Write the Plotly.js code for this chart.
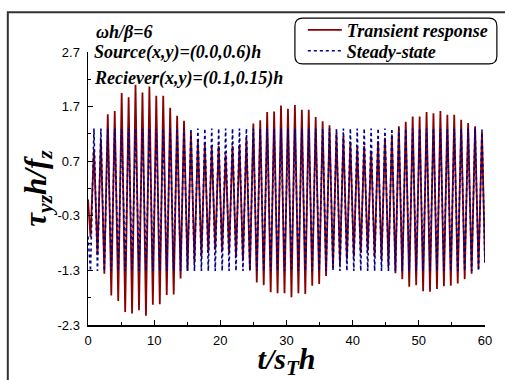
<!DOCTYPE html>
<html>
<head>
<meta charset="utf-8">
<script src="https://cdn.plot.ly/plotly-3.0.1.min.js"></script>
<style>html,body{margin:0;padding:0;background:#fff;}#chart{width:505px;height:380px;}</style>
</head>
<body>
<div id="chart"></div>
<script>
// time of successive extrema (peaks / troughs)
const tExt = [0, 0.38, 0.90, 1.43, 1.95, 2.47, 2.99, 3.52, 4.04, 4.57, 5.09, 5.62, 6.14, 6.66, 7.18, 7.71, 8.23, 8.76, 9.28, 9.80,
  10.32, 10.85, 11.37, 11.90, 12.42, 12.95, 13.47, 13.99, 14.51, 15.04, 15.56, 16.09, 16.61, 17.14, 17.66, 18.18, 18.70, 19.23, 19.75, 20.28,
  20.80, 21.32, 21.84, 22.37, 22.89, 23.42, 23.94, 24.47, 24.99, 25.51, 26.03, 26.56, 27.08, 27.61, 28.13, 28.65, 29.17, 29.70, 30.22, 30.75,
  31.27, 31.80, 32.32, 32.84, 33.36, 33.89, 34.41, 34.94, 35.46, 35.98, 36.50, 37.03, 37.55, 38.08, 38.60, 39.13, 39.65, 40.17, 40.69, 41.22,
  41.74, 42.27, 42.79, 43.32, 43.84, 44.36, 44.88, 45.41, 45.93, 46.46, 46.98, 47.50, 48.02, 48.55, 49.07, 49.60, 50.12, 50.65, 51.17, 51.69,
  52.21, 52.74, 53.26, 53.79, 54.31, 54.83, 55.35, 55.88, 56.40, 56.93, 57.45, 57.98, 58.50, 59.02, 59.54, 60];

const transient = [0, -0.69, 0.92, -1.02, 1.10, -1.36, 1.56, -1.76, 1.62, -1.86, 1.95, -2.06, 1.87, -2.09, 2.10, -2.03, 1.96, -2.13, 2.07, -1.93,
  1.90, -1.92, 1.90, -1.75, 1.68, -1.74, 1.53, -1.45, 1.44, -1.30, 1.23, -1.15, 1.08, -1.05, 1.00, -0.98, 0.95, -0.92, 0.98, -0.95,
  0.82, -0.98, 0.98, -1.05, 1.00, -1.12, 1.12, -1.30, 1.39, -1.52, 1.45, -1.57, 1.60, -1.70, 1.61, -1.72, 1.72, -1.72, 1.66, -1.79,
  1.73, -1.72, 1.64, -1.73, 1.64, -1.58, 1.51, -1.55, 1.43, -1.40, 1.36, -1.25, 1.22, -1.18, 1.16, -1.10, 1.05, -1.05, 0.95, -0.98,
  0.98, -0.95, 0.89, -1.05, 1.07, -1.12, 1.13, -1.22, 1.19, -1.35, 1.34, -1.46, 1.42, -1.60, 1.52, -1.57, 1.52, -1.68, 1.60, -1.69,
  1.58, -1.64, 1.62, -1.59, 1.55, -1.58, 1.55, -1.54, 1.46, -1.46, 1.40, -1.36, 1.34, -1.27, 1.25, -1.15];

const steady = [-0.68, -1.31, 1.30, -1.31, 1.30, -1.31, 1.30, -1.31, 1.30, -1.31, 1.30, -1.31, 1.30, -1.31, 1.30, -1.31, 1.30, -1.31, 1.30, -1.31,
  1.30, -1.31, 1.30, -1.31, 1.30, -1.31, 1.30, -1.31, 1.30, -1.31, 1.30, -1.31, 1.30, -1.31, 1.30, -1.31, 1.30, -1.31, 1.30, -1.31,
  1.30, -1.31, 1.30, -1.31, 1.30, -1.31, 1.30, -1.31, 1.30, -1.31, 1.30, -1.31, 1.30, -1.31, 1.30, -1.31, 1.30, -1.31, 1.30, -1.31,
  1.30, -1.31, 1.30, -1.31, 1.30, -1.31, 1.30, -1.31, 1.30, -1.31, 1.30, -1.31, 1.30, -1.31, 1.30, -1.31, 1.30, -1.31, 1.30, -1.31,
  1.30, -1.31, 1.30, -1.31, 1.30, -1.31, 1.30, -1.31, 1.30, -1.31, 1.30, -1.31, 1.30, -1.31, 1.30, -1.31, 1.30, -1.31, 1.30, -1.31,
  1.30, -1.31, 1.30, -1.31, 1.30, -1.31, 1.30, -1.31, 1.30, -1.31, 1.30, -1.31, 1.30, -1.31, 1.28, -1.20];

const seriesNames = ['Transient response', 'Steady-state'];
const xTickVals = [0, 10, 20, 30, 40, 50, 60];
const xTickText = ['0', '10', '20', '30', '40', '50', '60'];
const yTickVals = [-2.3, -1.3, -0.3, 0.7, 1.7, 2.7];
const yTickText = ['-2.3', '-1.3', '-0.3', '0.7', '1.7', '2.7'];

const W = 505, H = 380, ML = 88, MR = 16, MT = 51, MB = 55;
const PW = W - ML - MR, PH = H - MT - MB;
const px2x = p => (p - ML) / PW;
const px2y = p => (H - MB - p) / PH;

function roundRect(x0, y0, x1, y1, r) {
  const X = px2x, Y = px2y;
  return `M${X(x0 + r)},${Y(y0)} L${X(x1 - r)},${Y(y0)} Q${X(x1)},${Y(y0)} ${X(x1)},${Y(y0 + r)} ` +
         `L${X(x1)},${Y(y1 - r)} Q${X(x1)},${Y(y1)} ${X(x1 - r)},${Y(y1)} L${X(x0 + r)},${Y(y1)} ` +
         `Q${X(x0)},${Y(y1)} ${X(x0)},${Y(y1 - r)} L${X(x0)},${Y(y0 + r)} Q${X(x0)},${Y(y0)} ${X(x0 + r)},${Y(y0)} Z`;
}

const serif = 'Liberation Serif, Times New Roman, serif';
const sans = 'Liberation Sans, Arial, sans-serif';

const traces = [
  {x: tExt, y: transient, name: '<b><i>' + seriesNames[0] + '</i></b>', type: 'scatter', mode: 'lines',
   line: {color: '#8b0000', width: 1.8}, legend: 'legend'},
  {x: tExt, y: steady, name: '<b><i>' + seriesNames[1] + '</i></b>', type: 'scatter', mode: 'lines',
   line: {color: '#00008b', width: 1.6, dash: 'dot'}, legend: 'legend2'}
];

const legendCommon = {xanchor: 'left', yanchor: 'middle', bgcolor: 'rgba(0,0,0,0)', borderwidth: 0,
  itemwidth: 34, font: {family: serif, size: 18, color: '#000'}};

const layout = {
  width: W, height: H,
  margin: {l: ML, r: MR, t: MT, b: MB, pad: 0},
  paper_bgcolor: '#fff', plot_bgcolor: '#fff',
  showlegend: true,
  legend: Object.assign({}, legendCommon, {x: px2x(305), y: px2y(29)}),
  legend2: Object.assign({}, legendCommon, {x: px2x(305), y: px2y(50)}),
  xaxis: {range: [0, 60], showgrid: false, zeroline: false, showline: true, linecolor: '#000', linewidth: 1.5,
          ticks: 'inside', ticklen: 5, tickwidth: 1, tickcolor: '#000',
          tickvals: xTickVals, ticktext: xTickText, ticklabelstandoff: 3,
          tickfont: {family: sans, size: 13, color: '#000'},
          minor: {dtick: 5, tick0: 0, ticks: 'inside', ticklen: 3, tickcolor: '#000', showgrid: false},
          title: {text: '<b><i>t/s<sub>T</sub>h</i></b>', font: {family: serif, size: 30, color: '#000'}, standoff: 9}},
  yaxis: {range: [-2.3, 2.7], showgrid: false, zeroline: false, showline: true, linecolor: '#000', linewidth: 1.5,
          ticks: 'inside', ticklen: 5, tickwidth: 1, tickcolor: '#000',
          tickvals: yTickVals, ticktext: yTickText, ticklabelstandoff: 4,
          tickfont: {family: sans, size: 13, color: '#000'},
          minor: {dtick: 0.5, tick0: -2.3, ticks: 'inside', ticklen: 3, tickcolor: '#000', showgrid: false},
          title: {text: '<b><i>τ<sub>yz</sub>h/f<sub>z</sub></i></b>', font: {family: serif, size: 31, color: '#000'}, standoff: 1}},
  shapes: [
    {type: 'rect', xref: 'paper', yref: 'paper', x0: px2x(7), y0: px2y(11), x1: px2x(520), y1: px2y(395),
     line: {color: '#333', width: 2}, fillcolor: 'rgba(0,0,0,0)', layer: 'below'},
    {type: 'path', xref: 'paper', yref: 'paper', path: roundRect(297, 17, 501, 63, 8),
     line: {color: '#000', width: 1.2}, fillcolor: '#fff', layer: 'above'}
  ],
  annotations: [
    {xref: 'paper', yref: 'paper', x: px2x(94), y: px2y(31), xanchor: 'left', yanchor: 'middle', showarrow: false,
     text: '<b><i>ωh/β=6</i></b>', font: {family: serif, size: 18, color: '#000'}},
    {xref: 'paper', yref: 'paper', x: px2x(92), y: px2y(52), xanchor: 'left', yanchor: 'middle', showarrow: false,
     text: '<b><i>Source(x,y)=(0.0,0.6)h</i></b>', font: {family: serif, size: 18, color: '#000'}},
    {xref: 'paper', yref: 'paper', x: px2x(92), y: px2y(78), xanchor: 'left', yanchor: 'middle', showarrow: false,
     text: '<b><i>Reciever(x,y)=(0.1,0.15)h</i></b>', font: {family: serif, size: 18, color: '#000'}}
  ]
};

Plotly.newPlot('chart', traces, layout, {displayModeBar: false, staticPlot: true});
</script>
</body>
</html>
